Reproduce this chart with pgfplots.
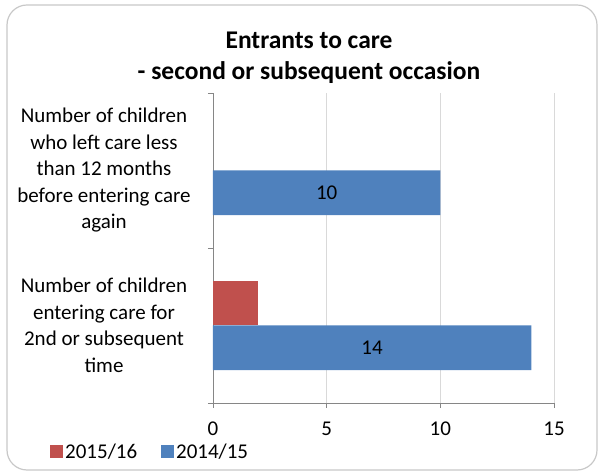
\documentclass[border=0pt]{standalone}
\usepackage{pgfplots}
\pgfplotsset{compat=1.18}
\usepackage{pgfplotstable}
\usepackage{fontspec}
\setmainfont{Carlito}

\definecolor{serRed}{HTML}{C0504D}
\definecolor{serBlue}{HTML}{4F81BD}
\definecolor{axisGray}{HTML}{868686}
\definecolor{gridGray}{HTML}{D9D9D9}
\definecolor{frameGray}{HTML}{C8C8C8}

% cat: 0 = entering care for 2nd+ time, 1 = left care < 12 months before
\pgfplotstableread{
cat v1516 v1415
0   2     14
1   0     10
}\entrants

\newcommand{\lblfont}{\fontsize{21bp}{26.5bp}\selectfont}

\begin{document}
\begin{tikzpicture}
\begin{axis}[
  name=ax,
  at={(0,0)}, anchor=south west,
  scale only axis, width=341bp, height=310bp,
  xmin=0, xmax=15, ymin=-0.5, ymax=1.5,
  axis x line*=bottom, axis y line*=left,
  axis line style={axisGray, line width=0.8bp, -},
  tick align=outside,
  major tick length=5bp,
  tick style={axisGray, line width=0.8bp},
  xtick={0,5,10,15},
  xmajorgrids, grid style={gridGray, line width=0.8bp},
  ytick={-0.5,0.5,1.5}, yticklabels={},
  extra y ticks={0,1},
  extra y tick labels={{Number of children\\entering care for\\2nd or subsequent\\time},
                       {Number of children\\who left care less\\than 12 months\\before entering care\\again}},
  extra y tick style={tick style={draw=none}},
  /pgf/number format/assume math mode=true,
  xticklabel style={font=\lblfont, inner sep=0pt, yshift=-14bp},
  yticklabel style={font=\lblfont, align=center, inner sep=0pt, anchor=center, xshift=-104bp},
  legend columns=2,
  legend style={draw=none, fill=none, at={(-0.478,-0.158)}, anchor=west,
    font=\lblfont, inner sep=0pt,
    /tikz/every even column/.append style={column sep=22bp},
    cells={anchor=west}},
  legend image code/.code={\fill[#1] (0bp,-6.5bp) rectangle (13bp,6.5bp);},
]
\addplot[xbar, bar width=0.2875, bar shift=0.14375, fill=serRed, draw=none,
  x filter/.expression={x<=0 ? nan : x}, unbounded coords=discard]
  table[x=v1516, y=cat] {\entrants};
\addlegendentry{2015/16}
\addplot[xbar, bar width=0.2875, bar shift=-0.14375, fill=serBlue, draw=none]
  table[x=v1415, y=cat] {\entrants};
\addlegendentry{2014/15}
% value labels centred inside the 2014/15 bars
\addplot[draw=none, mark=none, forget plot, nodes near coords,
  point meta=explicit,
  every node near coord/.append style={anchor=center, font=\lblfont, inner sep=0pt}]
  table[x expr=\thisrow{v1415}/2, y expr=\thisrow{cat}-0.14375, meta=v1415] {\entrants};
\end{axis}
\begin{scope}[shift={(ax.south west)}, x=1bp, y=1bp]
  \path[use as bounding box] (-213,-69) rectangle (389,403);
  \draw[frameGray, line width=1.2bp, rounded corners=20bp] (-206,-67) rectangle (384,398);
  \node[align=center, font=\fontsize{25.5bp}{31bp}\selectfont\bfseries, inner sep=0pt]
    at (96,345.5) {Entrants to care\\- second or subsequent occasion};
\end{scope}
\end{tikzpicture}
\end{document}
